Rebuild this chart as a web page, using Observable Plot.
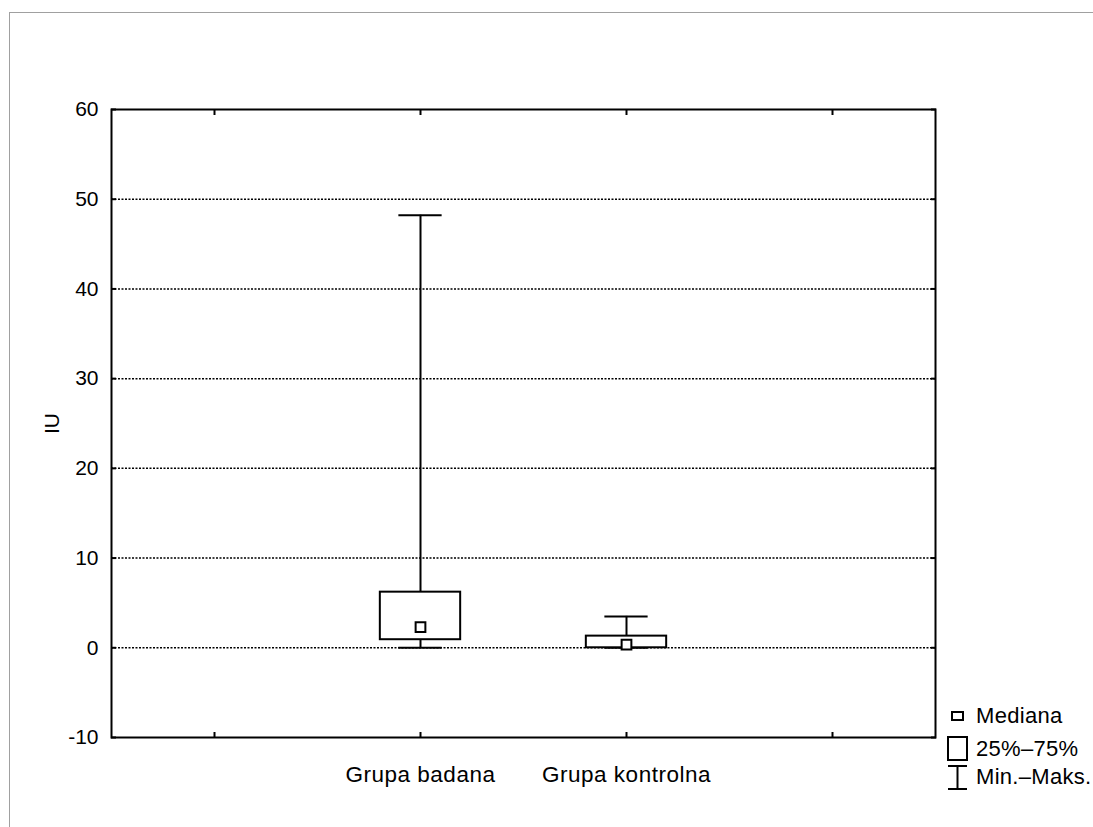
<!DOCTYPE html>
<html>
<head>
<meta charset="utf-8">
<script src="https://cdn.jsdelivr.net/npm/d3@7"></script>
<script src="https://cdn.jsdelivr.net/npm/@observablehq/plot@0.6"></script>
<style>
  html, body { margin: 0; background: #fff; }
  body { font-family: "Liberation Sans", Arial, sans-serif; color: #000; }
  #wrap { position: relative; width: 1093px; height: 827px; overflow: hidden; }
  #sheet { position: absolute; left: 9px; top: 12px; width: 1200px; height: 1000px;
           border-left: 1px solid #a0a0a0; border-top: 1px solid #a0a0a0; }
  #chart { position: absolute; left: 0; top: 0; }
  #legend { position: absolute; left: 947px; top: 703px; font-size: 22px; letter-spacing: 0.3px; line-height: 1; }
  #legend .item { position: absolute; left: 0; white-space: nowrap; }
  #legend svg { position: absolute; left: 0; }
  #legend span { position: absolute; left: 29px; }
  .xlab text { font-size: 22.5px; letter-spacing: 0.5px; }
</style>
</head>
<body>
<div id="wrap">
  <div id="sheet"></div>
  <div id="chart"></div>
  <div id="legend"></div>
</div>
<script>
// Box-plot summary per group
const groupNames = ["Grupa badana", "Grupa kontrolna"];
const groupSlot  = [1, 2];            // slot index on the category axis
const minValues  = [0, 0];
const q1Values   = [0.9, 0];
const medValues  = [2.3, 0.35];
const q3Values   = [6.2, 1.3];
const maxValues  = [48.2, 3.5];

// Axis ticks and labels
const xSlots     = [0, 1, 2, 3];
const xLabels    = ["", "Grupa badana", "Grupa kontrolna", ""];
const yTicks     = [-10, 0, 10, 20, 30, 40, 50, 60];
const gridValues = [0, 10, 20, 30, 40, 50];
const yLabel     = "IU";

// Legend entries
const legendLabels = ["Mediana", "25%\u201375%", "Min.\u2013Maks."];

const rows = groupNames.map((name, i) => ({
  name, slot: groupSlot[i],
  min: minValues[i], q1: q1Values[i], med: medValues[i], q3: q3Values[i], max: maxValues[i]
}));

const boxHalf = 0.195;   // half box width, in slot units
const capHalf = 0.105;   // half whisker-cap width, in slot units

// inward tick marks only (no labels)
const tickOnly = { fill: "none", tickSize: 5, strokeWidth: 2, label: null };

const chart = Plot.plot({
  width: 1093,
  height: 827,
  marginLeft: 111,
  marginRight: 158,
  marginTop: 109,
  marginBottom: 90,
  style: { fontFamily: "'Liberation Sans', Arial, sans-serif", fontSize: "21px", color: "#000", background: "transparent", overflow: "visible" },
  x: { domain: [-0.5, 3.5], axis: null },
  y: { domain: [-10, 60], axis: null },
  marks: [
    // dotted horizontal gridlines
    Plot.ruleY(gridValues, { stroke: "#000", strokeWidth: 1.5, strokeDasharray: "2,1.5" }),
    // whiskers
    Plot.ruleX(rows, { x: "slot", y1: "q3", y2: "max", stroke: "#000", strokeWidth: 2 }),
    Plot.ruleX(rows, { x: "slot", y1: "min", y2: "q1", stroke: "#000", strokeWidth: 2 }),
    Plot.ruleY(rows, { y: "max", x1: d => d.slot - capHalf, x2: d => d.slot + capHalf, stroke: "#000", strokeWidth: 2 }),
    Plot.ruleY(rows, { y: "min", x1: d => d.slot - capHalf, x2: d => d.slot + capHalf, stroke: "#000", strokeWidth: 2 }),
    // interquartile boxes
    Plot.rect(rows, { x1: d => d.slot - boxHalf, x2: d => d.slot + boxHalf, y1: "q1", y2: "q3", fill: "#fff", stroke: "#000", strokeWidth: 2 }),
    // medians
    Plot.dot(rows, { x: "slot", y: "med", symbol: "square", r: 5.5, fill: "#fff", stroke: "#000", strokeWidth: 2 }),
    // frame and inward ticks on all four sides
    Plot.frame({ stroke: "#000", strokeWidth: 2 }),
    Plot.axisY(yTicks, { anchor: "left", dx: 5, ...tickOnly }),
    Plot.axisY(yTicks, { anchor: "right", dx: -5, ...tickOnly }),
    Plot.axisX(xSlots, { anchor: "bottom", dy: -5, ...tickOnly }),
    Plot.axisX(xSlots, { anchor: "top", dy: 5, ...tickOnly }),
    // tick labels
    Plot.axisY(yTicks, { anchor: "left", tickSize: 0, tickPadding: 13, tickFormat: d => String(d), fill: "#000", label: null }),
    Plot.axisX(xSlots, { anchor: "bottom", tickSize: 0, tickPadding: 29, tickFormat: i => xLabels[i], fill: "#000", label: null, className: "xlab" }),
    // y-axis title, centred on the plot's vertical middle
    Plot.text([yLabel], { frameAnchor: "left", textAnchor: "middle", dx: -59, rotate: -90, fill: "#000" })
  ]
});
document.getElementById("chart").appendChild(chart);

// Legend in the right margin
const legend = d3.select("#legend");
const itemTops = [0, 33, 62];
const icons = [
  g => g.append("rect").attr("x", 5).attr("y", 9).attr("width", 11).attr("height", 8),
  g => g.append("rect").attr("x", 1).attr("y", 1).attr("width", 19).attr("height", 23),
  g => { g.append("line").attr("x1", 1).attr("x2", 20).attr("y1", 1).attr("y2", 1);
         g.append("line").attr("x1", 10.5).attr("x2", 10.5).attr("y1", 1).attr("y2", 24);
         g.append("line").attr("x1", 1).attr("x2", 20).attr("y1", 24).attr("y2", 24); }
];
legendLabels.forEach((label, i) => {
  const item = legend.append("div").attr("class", "item").style("top", itemTops[i] + "px");
  const svg = item.append("svg").attr("width", 22).attr("height", 26).style("top", "0px");
  const g = svg.append("g").attr("fill", "#fff").attr("stroke", "#000").attr("stroke-width", 2);
  icons[i](g);
  item.append("span").style("top", (i === 2 ? 1 : 2) + "px").text(label);
});
</script>
</body>
</html>
